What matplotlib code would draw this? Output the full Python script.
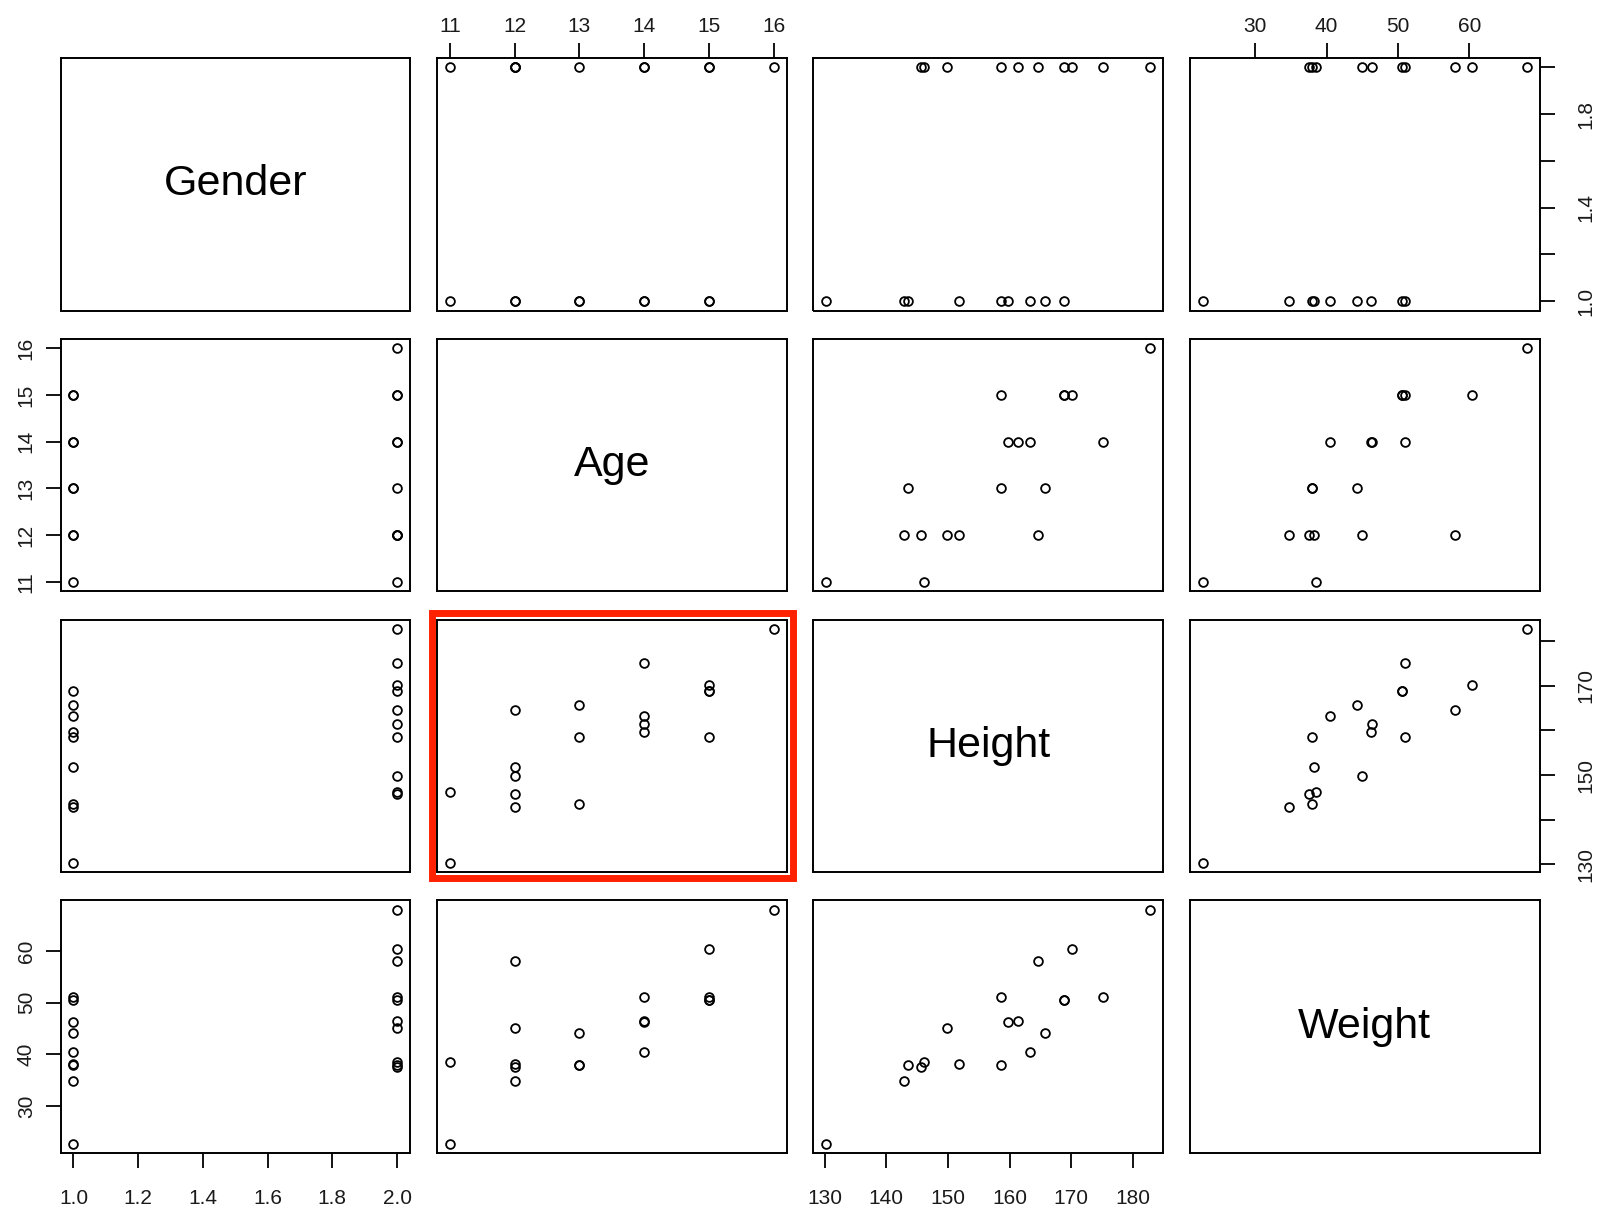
import matplotlib
matplotlib.use('Agg')
import matplotlib.pyplot as plt
from matplotlib.patches import Rectangle

plt.rcParams['font.family'] = ['Liberation Sans', 'DejaVu Sans']

# data (19 children)
names = ['Gender', 'Age', 'Height', 'Weight']
gender = [2, 2, 2, 2, 1, 1, 2, 1, 2, 1, 2, 1, 1, 2, 2, 2, 1, 1, 1]
age = [16, 14, 15, 15, 15, 13, 12, 14, 14, 14, 13, 15, 12, 12, 12, 11, 13, 12, 11]
height = [182.8, 175.2, 170.2, 168.8, 168.8, 165.8, 164.6, 163.3, 161.4, 159.7,
          158.6, 158.6, 151.8, 149.8, 145.7, 146.1, 143.5, 142.9, 130.3]
weight = [68.0, 51.0, 60.3, 50.6, 50.6, 44.2, 58.0, 40.5, 46.4, 46.2,
          37.9, 51.0, 38.2, 45.0, 37.6, 38.5, 38.0, 34.8, 22.7]
data = [gender, age, height, weight]

ticks = [[1.0, 1.2, 1.4, 1.6, 1.8, 2.0], [11, 12, 13, 14, 15, 16],
         [130, 140, 150, 160, 170, 180], [30, 40, 50, 60]]
tick_labels = [['1.0', '1.2', '1.4', '1.6', '1.8', '2.0'],
               ['11', '12', '13', '14', '15', '16'],
               ['130', '140', '150', '160', '170', '180'],
               ['30', '40', '50', '60']]
# on the right side R drops labels that would overlap
right_labels = {0: ['1.0', '', '1.4', '', '1.8', ''],
                2: ['130', '', '150', '', '170', '']}

W, H = 1603, 1212
fig = plt.figure(figsize=(W / 100, H / 100), dpi=100)

lefts = [60.5 + 376.5 * j for j in range(4)]
tops = [58.0 + 280.8 * i for i in range(4)]
pw, ph = 349.5, 252.5
txt_col = '#1a1a1a'
fs = 15


def lims(v):
    lo, hi = min(v), max(v)
    pad = 0.04 * (hi - lo)
    return lo - pad, hi + pad


for i in range(4):
    for j in range(4):
        ax = fig.add_axes([lefts[j] / W, 1 - (tops[i] + ph) / H, pw / W, ph / H])
        ax.set_xlim(lims(data[j]))
        ax.set_ylim(lims(data[i]))
        for s in ax.spines.values():
            s.set_linewidth(1.4)
        ax.set_xticks([])
        ax.set_yticks([])

        if i == j:
            ax.text(0.5, 0.5, names[i], transform=ax.transAxes, ha='center',
                    va='center', fontsize=31, color='black')
        else:
            ax.plot(data[j], data[i], 'o', ms=6.3, mfc='none', mec='black',
                    mew=1.3, ls='none')

        # top axis
        if i == 0 and j in (1, 3):
            ax.set_xticks(ticks[j])
            ax.set_xticklabels(tick_labels[j])
            ax.tick_params(axis='x', direction='out', length=10.8, width=1.3,
                           pad=5, labelsize=fs, labelcolor=txt_col,
                           top=True, bottom=False, labeltop=True, labelbottom=False)
        # bottom axis
        if i == 3 and j in (0, 2):
            ax.set_xticks(ticks[j])
            ax.set_xticklabels(tick_labels[j])
            ax.tick_params(axis='x', direction='out', length=10.8, width=1.3,
                           pad=15, labelsize=fs, labelcolor=txt_col)
        # left axis
        if j == 0 and i in (1, 3):
            ax.set_yticks(ticks[i])
            ax.set_yticklabels(tick_labels[i], rotation=90, va='center')
            ax.tick_params(axis='y', direction='out', length=10.8, width=1.3,
                           pad=7, labelsize=fs, labelcolor=txt_col)
        # right axis
        if j == 3 and i in (0, 2):
            ax.set_yticks(ticks[i])
            ax.set_yticklabels(right_labels[i], rotation=90, va='center')
            ax.tick_params(axis='y', direction='out', length=10.8, width=1.3,
                           pad=16, labelsize=fs, labelcolor=txt_col,
                           right=True, left=False, labelright=True, labelleft=False)

# red highlight around Age vs Height
fig.add_artist(Rectangle((431.5 / W, 1 - 877.5 / H), (792.5 - 431.5) / W, (877.5 - 612.5) / H,
                         transform=fig.transFigure, fill=False, ec='#ff2200', lw=5))

fig.savefig('out.png', dpi=100)
